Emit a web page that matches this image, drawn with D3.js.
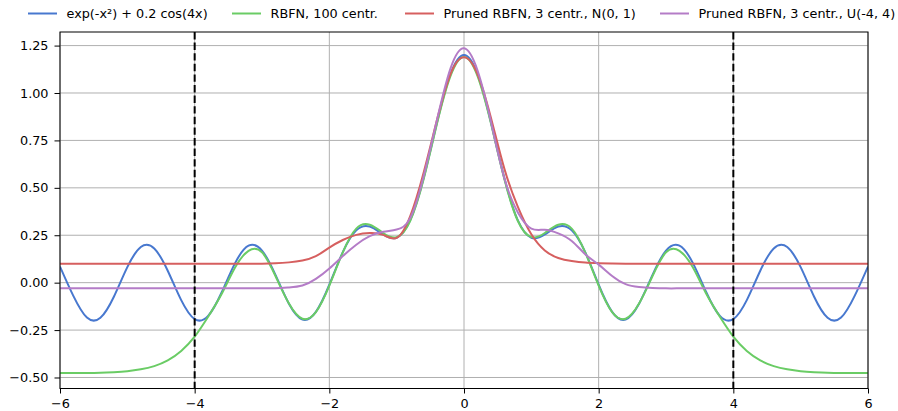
<!DOCTYPE html>
<html><head><meta charset="utf-8">
<script src="https://cdn.jsdelivr.net/npm/d3@7"></script>
<style>
body{margin:0;background:#fff;}
text{font-family:"DejaVu Sans",sans-serif;}
</style></head>
<body><svg id="c" width="898" height="411"></svg>
<script>
const xs = [-6,-5.8,-5.6,-5.4,-5.2,-5,-4.8,-4.6,-4.4,-4.2,-4,-3.8,-3.6,-3.4,-3.2,-3,-2.8,-2.6,-2.4,-2.2,-2,-1.8,-1.6,-1.4,-1.2,-1,-0.8,-0.6,-0.4,-0.2,0,0.2,0.4,0.6,0.8,1,1.2,1.4,1.6,1.8,2,2.2,2.4,2.6,2.8,3,3.2,3.4,3.6,3.8,4,4.2,4.4,4.6,4.8,5,5.2,5.4,5.6,5.8,6];
const trueFn = [0.085,-0.071,-0.184,-0.185,-0.074,0.082,0.188,0.180,0.063,-0.092,-0.192,-0.175,-0.052,0.103,0.195,0.169,0.041,-0.111,-0.194,-0.154,-0.011,0.161,0.276,0.296,0.254,0.237,0.328,0.550,0.846,1.100,1.2,1.100,0.846,0.550,0.328,0.237,0.254,0.296,0.276,0.161,-0.011,-0.154,-0.194,-0.111,0.041,0.169,0.195,0.103,-0.052,-0.175,-0.192,-0.092,0.063,0.180,0.188,0.082,-0.074,-0.185,-0.184,-0.071,0.085];
const rbfn100 = [-0.476,-0.476,-0.476,-0.475,-0.472,-0.467,-0.457,-0.44,-0.41,-0.36,-0.285,-0.18,-0.06,0.08,0.168,0.16,0.035,-0.11,-0.19,-0.155,-0.015,0.16,0.285,0.305,0.262,0.24,0.325,0.545,0.84,1.09,1.19,1.09,0.84,0.545,0.325,0.24,0.262,0.305,0.285,0.16,-0.015,-0.155,-0.19,-0.11,0.035,0.16,0.168,0.08,-0.06,-0.18,-0.285,-0.36,-0.41,-0.44,-0.457,-0.467,-0.472,-0.475,-0.476,-0.476,-0.476];
const prunedN = [0.1,0.1,0.1,0.1,0.1,0.1,0.1,0.1,0.1,0.1,0.1,0.1,0.1,0.1,0.1,0.1,0.102,0.107,0.117,0.14,0.185,0.225,0.252,0.262,0.252,0.236,0.35,0.58,0.86,1.1,1.188,1.1,0.87,0.6,0.4,0.255,0.17,0.13,0.114,0.106,0.103,0.101,0.1,0.1,0.1,0.1,0.1,0.1,0.1,0.1,0.1,0.1,0.1,0.1,0.1,0.1,0.1,0.1,0.1,0.1,0.1];
const prunedU = [-0.03,-0.03,-0.03,-0.03,-0.03,-0.03,-0.03,-0.03,-0.03,-0.03,-0.03,-0.03,-0.03,-0.03,-0.03,-0.03,-0.029,-0.025,-0.015,0.02,0.075,0.14,0.2,0.245,0.268,0.28,0.34,0.56,0.86,1.13,1.236,1.12,0.85,0.55,0.37,0.285,0.279,0.26,0.22,0.15,0.095,0.035,-0.008,-0.023,-0.028,-0.03,-0.03,-0.03,-0.03,-0.03,-0.03,-0.03,-0.03,-0.03,-0.03,-0.03,-0.03,-0.03,-0.03,-0.03,-0.03];
const seriesNames = ["exp(-x²) + 0.2 cos(4x)","RBFN, 100 centr.","Pruned RBFN, 3 centr., N(0, 1)","Pruned RBFN, 3 centr., U(-4, 4)"];
const seriesColors = ["#4878CF","#6ACC65","#D65F5F","#B47CC7"];
const seriesValues = [trueFn, rbfn100, prunedN, prunedU];
const xTicks = [-6,-4,-2,0,2,4,6];
const yTicks = [-0.5,-0.25,0,0.25,0.5,0.75,1.0,1.25];
const vLines = [-4,4];

const svg = d3.select("#c");
const L=60,R=868,T=32,B=388.5;
const FS = 12.8;
const x = d3.scaleLinear().domain([-6,6]).range([L,R]);
const y = d3.scaleLinear().domain([-0.558,1.3216]).range([B,T]);

// grid
const g = svg.append("g");
g.selectAll(".gx").data(xTicks).enter().append("line")
 .attr("x1",d=>x(d)).attr("x2",d=>x(d)).attr("y1",T).attr("y2",B)
 .attr("stroke","#b0b0b0").attr("stroke-width",1);
g.selectAll(".gy").data(yTicks).enter().append("line")
 .attr("y1",d=>y(d)).attr("y2",d=>y(d)).attr("x1",L).attr("x2",R)
 .attr("stroke","#b0b0b0").attr("stroke-width",1);

svg.append("clipPath").attr("id","clp").append("rect")
 .attr("x",L).attr("y",T).attr("width",R-L).attr("height",B-T);

const line = d3.line().x((d,i)=>x(xs[i])).y(d=>y(d)).curve(d3.curveNatural);
const lg = svg.append("g").attr("clip-path","url(#clp)");
seriesValues.forEach((vals,i)=>{
  lg.append("path").attr("d",line(vals)).attr("fill","none")
    .attr("stroke",seriesColors[i]).attr("stroke-width",2).attr("stroke-linejoin","round");
});
lg.selectAll(".vl").data(vLines).enter().append("line")
 .attr("x1",d=>x(d)).attr("x2",d=>x(d)).attr("y1",T).attr("y2",B)
 .attr("stroke","#000").attr("stroke-width",2).attr("stroke-dasharray","7.4,3.2");

// axes
const xa = svg.append("g").attr("transform",`translate(0,${B})`)
 .call(d3.axisBottom(x).tickValues(xTicks).tickFormat(d3.format("d")).tickSize(5).tickPadding(5.5));
const ya = svg.append("g").attr("transform",`translate(${L},0)`)
 .call(d3.axisLeft(y).tickValues(yTicks).tickFormat(d3.format(".2f")).tickSize(5.5).tickPadding(6));
[xa,ya].forEach(a=>{a.select(".domain").remove();
  a.selectAll("text").attr("font-size",FS).attr("fill","#000").attr("font-family","DejaVu Sans");
  a.selectAll("line").attr("stroke","#000");});
svg.append("rect").attr("x",L).attr("y",T).attr("width",R-L).attr("height",B-T)
 .attr("fill","none").attr("stroke","#000").attr("stroke-width",1);

// legend
const legX = [28,232,405,660];
const leg = svg.append("g");
seriesNames.forEach((n,i)=>{
  leg.append("line").attr("x1",legX[i]).attr("x2",legX[i]+29).attr("y1",13.5).attr("y2",13.5)
   .attr("stroke",seriesColors[i]).attr("stroke-width",2);
  leg.append("text").attr("x",legX[i]+38.5).attr("y",18).attr("font-size",FS).text(n);
});
</script></body></html>
